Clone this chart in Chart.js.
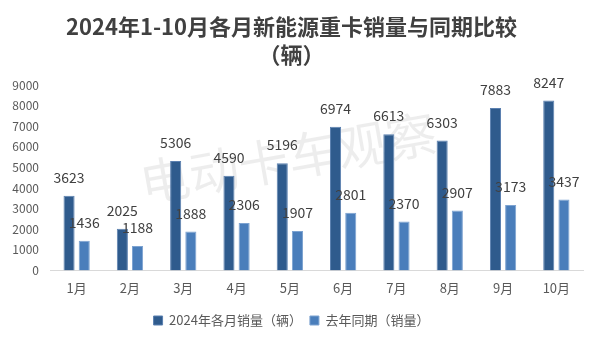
<!DOCTYPE html>
<html>
<head>
<meta charset="utf-8">
<script src="https://cdn.jsdelivr.net/npm/chart.js@4"></script>
<style>
  html, body { margin: 0; padding: 0; background: #fff; }
  #wrap { width: 600px; height: 343px; }
</style>
</head>
<body>
<div id="wrap"><canvas id="myChart"></canvas></div>
<script>
const months = ['1月', '2月', '3月', '4月', '5月', '6月', '7月', '8月', '9月', '10月'];
const sales2024 = [3623, 2025, 5306, 4590, 5196, 6974, 6613, 6303, 7883, 8247];
const salesLastYear = [1436, 1188, 1888, 2306, 1907, 2801, 2370, 2907, 3173, 3437];
const yTicks = [0, 1000, 2000, 3000, 4000, 5000, 6000, 7000, 8000, 9000];

const FONT = '"Noto Sans CJK SC", "Noto Sans", sans-serif';

// value labels above each bar
const barLabels = {
    id: 'barLabels',
    afterDatasetsDraw(chart) {
        const ctx = chart.ctx;
        ctx.save();
        ctx.font = '14px ' + FONT;
        ctx.fillStyle = '#404040';
        ctx.textAlign = 'center';
        ctx.textBaseline = 'alphabetic';
        chart.data.datasets.forEach((ds, i) => {
            chart.getDatasetMeta(i).data.forEach((bar, j) => {
                ctx.fillText(String(ds.data[j]), bar.x, bar.y - 13);
            });
        });
        ctx.restore();
    }
};

// faint watermark behind the bars
const watermark = {
    id: 'watermark',
    beforeDatasetsDraw(chart) {
        const ctx = chart.ctx;
        ctx.save();
        ctx.translate(288, 158);
        ctx.rotate(-10 * Math.PI / 180);
        ctx.font = '50px ' + FONT;
        ctx.fillStyle = 'rgba(0,0,0,0.07)';
        ctx.textAlign = 'center';
        ctx.textBaseline = 'middle';
        ctx.fillText('电动卡车观察', 0, 0);
        ctx.restore();
    }
};

const ctx = document.getElementById('myChart').getContext('2d');
const chart = new Chart(ctx, {
    type: 'bar',
    data: {
        labels: months,
        datasets: [{
            label: '2024年各月销量（辆）',
            data: sales2024,
            backgroundColor: '#2f5b8d',
            borderColor: '#5b80b0',
            borderWidth: 1,
            barPercentage: 0.73,
            categoryPercentage: 0.57,
        }, {
            label: '去年同期（销量）',
            data: salesLastYear,
            backgroundColor: '#4a7ebb',
            borderColor: '#7da3d1',
            borderWidth: 1,
            barPercentage: 0.73,
            categoryPercentage: 0.57,
        }]
    },
    options: {
        responsive: true,
        maintainAspectRatio: false,
        animation: false,
        layout: { padding: { left: 0, right: 17, top: 6, bottom: 6 } },
        plugins: {
            title: {
                display: true,
                text: ['2024年1-10月各月新能源重卡销量与同期比较', '（辆）'],
                color: '#404040',
                font: { family: FONT, size: 22, weight: 'bold', lineHeight: 1.25 },
                padding: { top: 7, bottom: 17 },
            },
            legend: {
                position: 'bottom',
                labels: {
                    color: '#595959',
                    font: { family: FONT, size: 13 },
                    boxWidth: 9,
                    boxHeight: 9,
                    padding: 8,
                },
            },
            tooltip: { enabled: false },
        },
        scales: {
            x: {
                grid: { display: false, drawTicks: false },
                border: { display: true, color: '#d9d9d9', width: 1 },
                ticks: { color: '#595959', font: { family: FONT, size: 13 }, padding: 10 },
            },
            y: {
                min: 0,
                max: 9000,
                afterBuildTicks(scale) {
                    scale.ticks = yTicks.map(v => ({ value: v }));
                },
                afterFit(scale) { scale.width = 50; },
                grid: { display: false, drawTicks: false },
                border: { display: false },
                ticks: {
                    color: '#595959',
                    font: { family: FONT, size: 12 },
                    padding: 11,
                    callback: v => String(v),
                },
            },
        },
    },
    plugins: [watermark, barLabels],
});
</script>
</body>
</html>
